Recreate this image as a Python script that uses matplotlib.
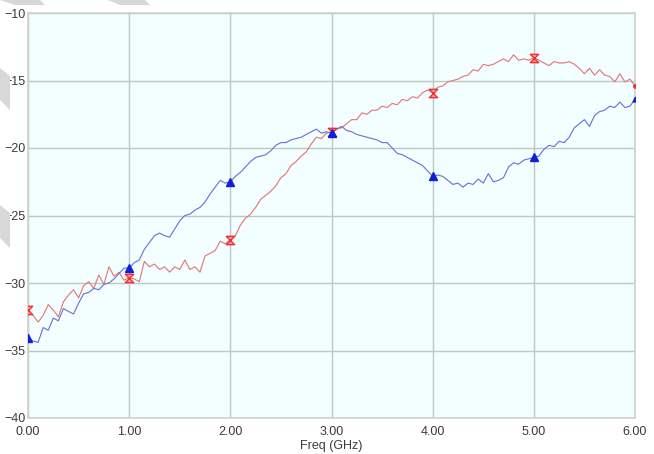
import numpy as np
from matplotlib import pyplot as plt
from matplotlib.path import Path
from matplotlib.patches import Polygon

# sweep, 0 to 6 GHz in 0.05 GHz steps
freq = np.arange(121) * 0.05

# trace 1 (red), dB
red_db = [
    -32.0, -32.4, -32.9, -32.4, -31.6, -32.0, -32.5, -31.4, -30.9, -30.5,
    -31.1, -30.2, -29.9, -30.4, -29.4, -30.1, -28.8, -29.5, -29.2, -29.8,
    -29.6, -29.7, -29.9, -28.4, -28.8, -28.6, -29.0, -28.8, -29.2, -28.8,
    -29.0, -28.3, -29.0, -28.8, -29.2, -28.0, -27.8, -27.6, -26.9, -27.1,
    -26.8, -26.5, -25.7, -25.2, -24.9, -24.4, -23.8, -23.5, -23.2, -22.8,
    -22.2, -21.9, -21.3, -21.0, -20.6, -20.3, -19.7, -19.2, -19.3, -18.9,
    -18.8, -18.6, -18.5, -18.2, -17.9, -17.9, -17.4, -17.5, -17.2, -17.2,
    -16.9, -17.0, -16.7, -16.8, -16.4, -16.5, -16.2, -16.3, -15.9, -15.7,
    -15.9, -15.5, -15.4, -15.1, -15.0, -14.9, -14.7, -14.6, -14.2, -14.3,
    -13.8, -13.9, -13.8, -13.6, -13.4, -13.6, -13.1, -13.5, -13.4, -13.5,
    -13.3, -13.5, -13.7, -13.9, -13.6, -13.7, -13.7, -13.6, -13.8, -14.1,
    -14.5, -14.1, -14.6, -14.2, -14.6, -14.7, -15.1, -14.5, -15.1, -14.9,
    -15.4,
]

# trace 2 (blue), dB
blue_db = [
    -34.1, -34.3, -34.4, -33.3, -33.5, -32.6, -32.8, -31.9, -32.1, -32.3,
    -31.5, -30.8, -30.7, -30.4, -30.5, -30.1, -30.0, -29.7, -29.3, -28.9,
    -28.9, -28.5, -28.3, -27.5, -27.0, -26.5, -26.3, -26.5, -26.6, -26.0,
    -25.4, -25.0, -24.9, -24.6, -24.4, -24.0, -23.4, -22.9, -22.4, -22.6,
    -22.5, -22.1, -21.8, -21.4, -21.0, -20.7, -20.6, -20.5, -20.2, -19.8,
    -19.6, -19.6, -19.4, -19.3, -19.2, -19.0, -18.8, -18.6, -18.9, -18.8,
    -18.9, -18.6, -18.4, -18.7, -18.8, -19.0, -19.1, -19.2, -19.3, -19.4,
    -19.6, -19.6, -20.0, -20.4, -20.5, -20.7, -20.9, -21.1, -21.3, -21.7,
    -22.1, -22.0, -22.1, -22.4, -22.7, -22.6, -22.9, -22.6, -22.7, -22.3,
    -22.6, -21.9, -22.5, -22.4, -22.2, -21.4, -21.1, -21.2, -20.9, -20.8,
    -20.7, -20.6, -20.1, -19.8, -19.9, -19.5, -19.6, -19.2, -18.5, -18.2,
    -17.9, -18.4, -17.6, -17.3, -17.2, -16.9, -17.0, -16.6, -17.0, -16.9,
    -16.4,
]

x_ticks = [0, 1, 2, 3, 4, 5, 6]
x_ticklabels = ["0.00", "1.00", "2.00", "3.00", "4.00", "5.00", "6.00"]
y_ticks = [-40, -35, -30, -25, -20, -15, -10]

plt.rcParams['font.family'] = ['Liberation Sans Narrow', 'Liberation Sans', 'DejaVu Sans']

W, H = 654, 454
fig = plt.figure(figsize=(W / 100, H / 100), dpi=100)
ax = fig.add_axes([28 / W, 1 - 418 / H, (635 - 28) / W, (418 - 13) / H])
ax.set_facecolor('#f2feff')

# hourglass marker for the red trace
hourglass = Path([(-1, 1), (1, 1), (-1, -1), (1, -1), (-1, 1)],
                 [Path.MOVETO, Path.LINETO, Path.LINETO, Path.LINETO, Path.CLOSEPOLY])

big = [0, 20, 40, 60, 80, 100]
ax.plot(freq, red_db, color='#e47474', lw=0.8, zorder=3)
ax.plot(freq, blue_db, color='#6670d4', lw=0.8, zorder=3)
ax.plot(freq[big], np.array(red_db)[big], ls='none', marker=hourglass, ms=6,
        mfc='#f6a0a0', mec='#f03030', mew=1.0, zorder=4)
ax.plot(freq[big], np.array(blue_db)[big], ls='none', marker='^', ms=6,
        color='#1020d8', zorder=5)
ax.plot(freq[-1:], red_db[-1:], ls='none', marker='o', ms=2.5, color='#f03030', zorder=4)
ax.plot(freq[-1:], blue_db[-1:], ls='none', marker='^', ms=3.5, color='#1020d8', zorder=5)

ax.set_xlim(0, 6)
ax.set_ylim(-40, -10)
ax.set_xticks(x_ticks)
ax.set_xticklabels(x_ticklabels)
ax.set_yticks(y_ticks)
ax.tick_params(length=0, labelsize=9, colors='#3a3a3a', pad=6)
ax.tick_params(axis='y', pad=2)
ax.grid(True, color='#bec6c6', lw=1.0)
for s in ax.spines.values():
    s.set_color('#cdd2d2')
    s.set_linewidth(1.2)
ax.set_xlabel('Freq (GHz)', fontsize=9, color='#3a3a3a', labelpad=1)

# faint diagonal watermark strokes in the margins
strokes = [
    [(0, 0), (40, 0), (45, 5), (15, 5)],
    [(108, 0), (145, 0), (150, 5), (120, 5)],
    [(0, 68), (10, 76), (10, 110), (0, 100)],
    [(0, 205), (10, 213), (10, 248), (0, 238)],
]
for pts in strokes:
    fig.patches.append(Polygon([(x / W, 1 - y / H) for x, y in pts], closed=True,
                               transform=fig.transFigure, fc='#d8d8d8', ec='none', zorder=0))

fig.savefig('out.png', dpi=100)
